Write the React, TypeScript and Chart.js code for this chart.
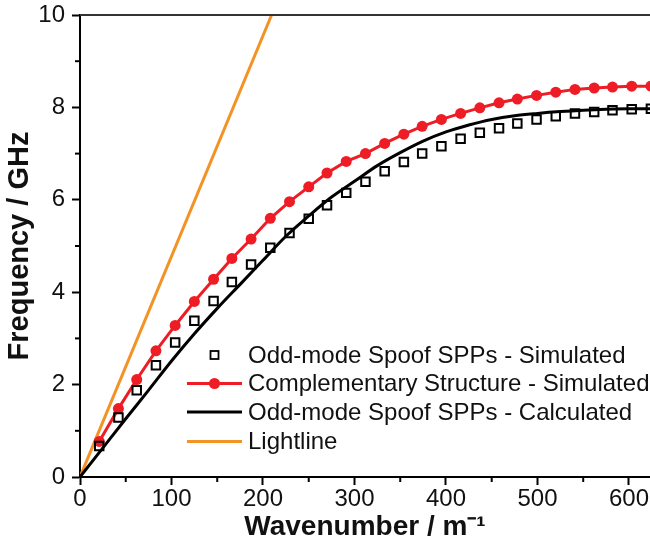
import React, { useEffect, useRef } from "react";
import { Chart, registerables } from "chart.js";

Chart.register(...registerables);

// Wavenumber sample positions (m^-1) of the simulated points
const kSim = [21, 42, 62, 83, 104, 125, 146, 166, 187, 208, 229, 250, 270, 291, 312, 333, 354, 374, 395, 416, 437, 458, 478, 499, 520, 541, 562, 582, 603, 624];
// Odd-mode Spoof SPPs - Simulated (GHz)
const oddSim = [0.67, 1.29, 1.88, 2.42, 2.91, 3.38, 3.81, 4.22, 4.6, 4.96, 5.28, 5.59, 5.88, 6.15, 6.39, 6.62, 6.82, 7.0, 7.16, 7.32, 7.45, 7.55, 7.65, 7.74, 7.81, 7.87, 7.9, 7.94, 7.96, 7.97];
// Complementary Structure - Simulated (GHz)
const compSim = [0.77, 1.48, 2.11, 2.73, 3.28, 3.8, 4.28, 4.73, 5.15, 5.6, 5.96, 6.28, 6.58, 6.83, 7.0, 7.22, 7.42, 7.59, 7.74, 7.87, 7.99, 8.1, 8.18, 8.26, 8.33, 8.39, 8.42, 8.44, 8.46, 8.46];
// Odd-mode Spoof SPPs - Calculated
const kCalc = [0, 25, 50, 75, 100, 125, 150, 175, 200, 225, 250, 275, 300, 325, 350, 375, 400, 425, 450, 475, 500, 525, 550, 575, 600, 625];
const oddCalc = [0, 0.63, 1.26, 1.88, 2.51, 3.1, 3.65, 4.17, 4.69, 5.21, 5.65, 6.06, 6.4, 6.74, 7.02, 7.27, 7.47, 7.62, 7.74, 7.82, 7.87, 7.91, 7.94, 7.96, 7.97, 7.97];
// Lightline
const kLight = [0, 209.4];
const fLight = [0, 10];

const legendLabels = [
  "Odd-mode Spoof SPPs - Simulated",
  "Complementary Structure - Simulated",
  "Odd-mode Spoof SPPs - Calculated",
  "Lightline",
];

const FONT = "'Liberation Sans', Arial, Helvetica, sans-serif";
const RED = "#EE1C25";
const ORANGE = "#F39225";

const toXY = (xs: number[], ys: number[]) => xs.map((x, i) => ({ x, y: ys[i] }));

const framePlugin = {
  id: "frame",
  afterDraw(chart: any) {
    const { ctx, chartArea } = chart;
    const xs = chart.scales.x;
    const ys = chart.scales.y;
    ctx.save();
    // top frame line
    ctx.strokeStyle = "#333";
    ctx.lineWidth = 2;
    ctx.beginPath();
    ctx.moveTo(chartArea.left, chartArea.top);
    ctx.lineTo(chart.width, chartArea.top);
    ctx.stroke();
    // minor ticks
    ctx.strokeStyle = "#000";
    ctx.lineWidth = 2;
    for (let v = 50; v < 623; v += 100) {
      const px = xs.getPixelForValue(v);
      ctx.beginPath();
      ctx.moveTo(px, chartArea.bottom);
      ctx.lineTo(px, chartArea.bottom + 5);
      ctx.stroke();
    }
    for (let v = 1; v < 10; v += 2) {
      const py = ys.getPixelForValue(v);
      ctx.beginPath();
      ctx.moveTo(chartArea.left, py);
      ctx.lineTo(chartArea.left - 5, py);
      ctx.stroke();
    }
    // legend
    const rows = [355, 383.5, 412, 441.5];
    const x0 = 187, x1 = 242, xm = 214.5, xt = 248;
    ctx.font = `24px ${FONT}`;
    ctx.textBaseline = "middle";
    ctx.textAlign = "left";
    rows.forEach((ry, i) => {
      if (i === 0) {
        ctx.strokeStyle = "#000";
        ctx.lineWidth = 1.8;
        ctx.strokeRect(xm - 4, ry - 4, 8, 8);
      } else if (i === 1) {
        ctx.strokeStyle = RED;
        ctx.lineWidth = 3;
        ctx.beginPath();
        ctx.moveTo(x0, ry);
        ctx.lineTo(x1, ry);
        ctx.stroke();
        ctx.fillStyle = RED;
        ctx.beginPath();
        ctx.arc(xm, ry, 5.5, 0, Math.PI * 2);
        ctx.fill();
      } else {
        ctx.strokeStyle = i === 2 ? "#000" : ORANGE;
        ctx.lineWidth = 3;
        ctx.beginPath();
        ctx.moveTo(x0, ry);
        ctx.lineTo(x1, ry);
        ctx.stroke();
      }
      ctx.fillStyle = "#111";
      ctx.fillText(legendLabels[i], xt, ry + 1);
    });
    ctx.restore();
  },
};

export default function App() {
  const ref = useRef<HTMLCanvasElement | null>(null);
  useEffect(() => {
    if (!ref.current) return;
    const chart = new Chart(ref.current, {
      type: "scatter",
      data: {
        datasets: [
          {
            label: legendLabels[3],
            data: toXY(kLight, fLight),
            showLine: true,
            borderColor: ORANGE,
            borderWidth: 3,
            pointRadius: 0,
            order: 4,
          },
          {
            label: legendLabels[2],
            data: toXY(kCalc, oddCalc),
            showLine: true,
            borderColor: "#000",
            borderWidth: 3,
            pointRadius: 0,
            cubicInterpolationMode: "monotone",
            order: 3,
          },
          {
            label: legendLabels[1],
            data: toXY(kSim, compSim),
            showLine: true,
            borderColor: RED,
            borderWidth: 3,
            pointRadius: 5.5,
            pointBackgroundColor: RED,
            pointBorderColor: RED,
            pointBorderWidth: 0,
            order: 2,
          },
          {
            label: legendLabels[0],
            data: toXY(kSim, oddSim),
            showLine: false,
            pointStyle: "rect",
            pointRadius: 6,
            pointBorderColor: "#000",
            pointBorderWidth: 2,
            pointBackgroundColor: "rgba(0,0,0,0)",
            order: 1,
          },
        ],
      },
      options: {
        responsive: false,
        animation: false,
        layout: { autoPadding: false, padding: { top: 15, right: 0, left: 0, bottom: 0 } },
        plugins: { legend: { display: false }, tooltip: { enabled: false } },
        scales: {
          x: {
            type: "linear",
            min: 0,
            max: 623,
            border: { color: "#000", width: 2 },
            grid: {
              drawOnChartArea: false,
              drawTicks: true,
              tickLength: 8,
              tickWidth: 2,
              tickColor: (c: any) => (c.tick && c.tick.value % 100 === 0 ? "#000" : "rgba(0,0,0,0)"),
            },
            ticks: {
              stepSize: 50,
              includeBounds: false,
              padding: 0,
              color: "#111",
              font: { family: FONT, size: 24 },
              maxRotation: 0,
              autoSkip: false,
              callback: (v: any) => (v % 100 === 0 ? String(v) : ""),
            },
            title: {
              display: true,
              text: "Wavenumber / m\u207B\u00B9",
              color: "#111",
              font: { family: FONT, size: 28, weight: "bold" },
              padding: { top: 0, bottom: 6 },
            },
            afterFit: (s: any) => {
              s.height = 73;
              s.paddingLeft = 0;
              s.paddingRight = 0;
            },
          },
          y: {
            type: "linear",
            min: 0,
            max: 10,
            border: { color: "#000", width: 2 },
            grid: {
              drawOnChartArea: false,
              drawTicks: true,
              tickLength: 8,
              tickWidth: 2,
              tickColor: (c: any) => (c.tick && c.tick.value % 2 === 0 ? "#000" : "rgba(0,0,0,0)"),
            },
            ticks: {
              stepSize: 1,
              padding: 7,
              color: "#111",
              font: { family: FONT, size: 24 },
              autoSkip: false,
              callback: (v: any) => (v % 2 === 0 ? String(v) : ""),
            },
            title: {
              display: true,
              text: "Frequency / GHz",
              color: "#111",
              font: { family: FONT, size: 29, weight: "bold" },
              padding: { top: 3, bottom: 0 },
            },
            afterFit: (s: any) => {
              s.width = 80;
              s.paddingTop = 0;
              s.paddingBottom = 0;
            },
          },
        },
      },
      plugins: [framePlugin],
    } as any);
    return () => chart.destroy();
  }, []);
  return (
    <div style={{ position: "fixed", left: 0, top: 0, width: 650, height: 550, background: "#fff" }}>
      <canvas ref={ref} width={650} height={550} style={{ display: "block" }} />
    </div>
  );
}
